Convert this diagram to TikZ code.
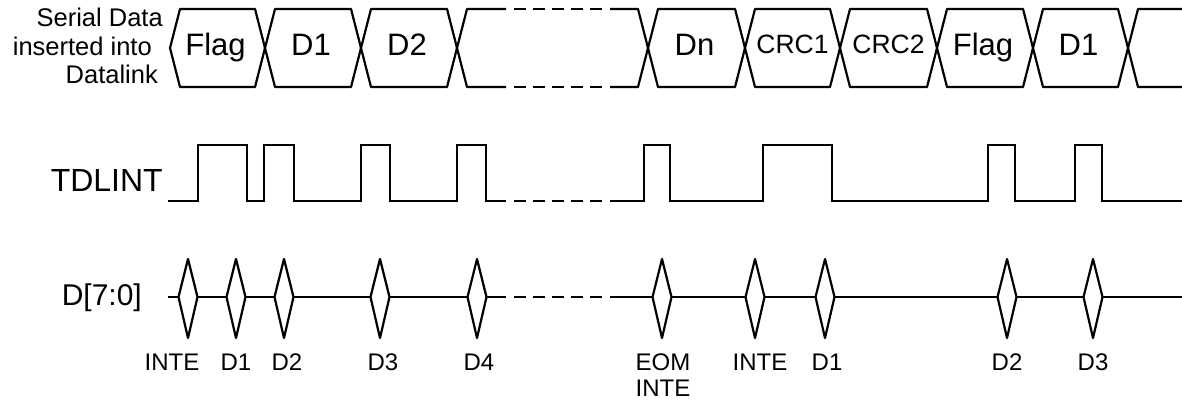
\documentclass[tikz,border=0pt]{standalone}
\usepackage{fontspec}
\setmainfont{Liberation Sans}
\begin{document}
\begin{tikzpicture}[x=1pt,y=-1pt,
  sig/.style={line width=2.2pt, line join=miter},
  bus/.style={line width=2.2pt, line join=round},
  gap/.style={line width=2.2pt, dash pattern=on 12pt off 7pt},
  txt/.style={inner sep=0pt, anchor=base},
  boxlabel/.style={txt, font=\fontsize{31}{36}\selectfont},
  crclabel/.style={txt, font=\fontsize{26.5}{30}\selectfont},
  sidelabel/.style={inner sep=0pt, anchor=base east, font=\fontsize{25.5}{30}\selectfont},
  siglabel/.style={inner sep=0pt, anchor=base east, font=\fontsize{32}{36}\selectfont},
  ticklabel/.style={txt, font=\fontsize{24}{28}\selectfont}]
\useasboundingbox (0,0) rectangle (1182,400);

% ---- serial data bus ----
\node[sidelabel] (s1) at (163,26) {Serial Data};
\node[sidelabel] (s2) at (152,55) {inserted into};
\node[sidelabel] (s3) at (158,83) {Datalink};

\foreach \a/\b/\t/\n in {170/265/Flag/bf1, 265/361/D1/bd1, 361/457/D2/bd2, 648/745/Dn/bdn, 937/1033/Flag/bf2, 1033/1128/D1/bd1b}{
  \draw[bus] (\a,48) -- (\a+10,9) -- (\b-10,9) -- (\b,48) -- (\b-10,87) -- (\a+10,87) -- cycle;
  \node[boxlabel] (\n) at ({(\a+\b)/2-2},55) {\t};
}
\foreach \a/\b/\t/\n in {745/840/CRC1/bc1, 840/937/CRC2/bc2}{
  \draw[bus] (\a,48) -- (\a+10,9) -- (\b-10,9) -- (\b,48) -- (\b-10,87) -- (\a+10,87) -- cycle;
  \node[crclabel] (\n) at ({(\a+\b)/2},53) {\t};
}
\draw[bus] (506,9) -- (467,9) -- (457,48) -- (467,87) -- (506,87);
\draw[bus] (610,9) -- (638,9) -- (648,48) -- (638,87) -- (610,87);
\draw[gap] (514,9) -- (602,9);
\draw[gap] (514,87) -- (602,87);
\draw[bus] (1182,9) -- (1138,9) -- (1128,48) -- (1138,87) -- (1182,87);

% ---- TDLINT ----
\node[siglabel] (tdl) at (163,191) {TDLINT};
\draw[sig] (168,201) -- (198,201) -- (198,145) -- (247,145) -- (247,201)
  -- (264,201) -- (264,145) -- (294,145) -- (294,201)
  -- (361,201) -- (361,145) -- (390,145) -- (390,201)
  -- (457,201) -- (457,145) -- (486,145) -- (486,201) -- (506,201);
\draw[gap] (514,201) -- (602,201);
\draw[sig] (610,201) -- (644,201) -- (644,145) -- (670,145) -- (670,201)
  -- (763,201) -- (763,145) -- (832,145) -- (832,201)
  -- (988,201) -- (988,145) -- (1015,145) -- (1015,201)
  -- (1075,201) -- (1075,145) -- (1102,145) -- (1102,201) -- (1182,201);

% ---- D[7:0] ----
\node[inner sep=0pt, anchor=base east, font=\fontsize{30}{34}\selectfont] (dbus) at (142,305) {D[7:0]};
\draw[sig] (168,297) -- (506,297);
\draw[gap] (514,297) -- (602,297);
\draw[sig] (610,297) -- (1182,297);
\foreach \c in {188,236,284,380,477,662,755,825,1007,1093}{
  \draw[bus, fill=white] (\c-9.5,297) -- (\c,259) -- (\c+9.5,297) -- (\c,338) -- cycle;
}
\node[ticklabel] (l1) at (172,370) {INTE};
\node[ticklabel] (l2) at (236,370) {D1};
\node[ticklabel] (l3) at (287,370) {D2};
\node[ticklabel] (l4) at (383,370) {D3};
\node[ticklabel] (l5) at (479,370) {D4};
\node[ticklabel] (l6) at (663,370) {EOM};
\node[ticklabel] (l6b) at (663,396) {INTE};
\node[ticklabel] (l7) at (760,370) {INTE};
\node[ticklabel] (l8) at (827,370) {D1};
\node[ticklabel] (l9) at (1007,370) {D2};
\node[ticklabel] (l10) at (1093,370) {D3};
\end{tikzpicture}
\end{document}
